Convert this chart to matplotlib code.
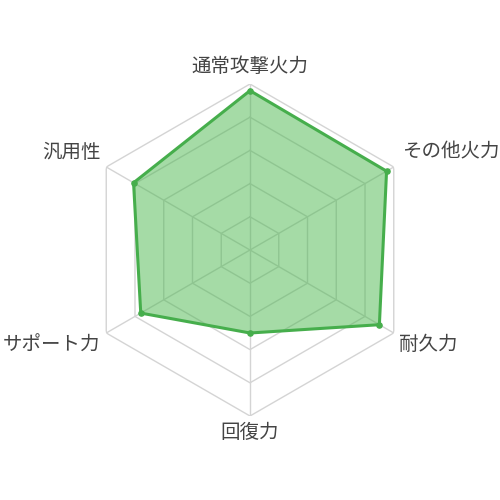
import numpy as np
import matplotlib
matplotlib.use("Agg")
import matplotlib.pyplot as plt

plt.rcParams['font.family'] = ['Noto Sans CJK JP', 'DejaVu Sans']

categories = ['通常攻撃火力', 'その他火力', '耐久力', '回復力', 'サポート力', '汎用性']
values = [9.6, 9.5, 9.0, 5.0, 7.6, 8.1]
r_max = 10
grid_levels = [2, 4, 6, 8, 10]

line_color = '#46AE4C'
fill_color = '#4CB84F'
grid_color = '#d4d4d4'
text_color = '#444444'

n = len(categories)
theta = np.arange(n) * 2 * np.pi / n

fig = plt.figure(figsize=(5, 5), dpi=100)
ax = fig.add_axes([0.168, 0.168, 0.664, 0.664], projection='polar')
ax.set_theta_offset(np.pi / 2)
ax.set_theta_direction(-1)
ax.set_ylim(0, r_max)
ax.grid(False)
ax.spines['polar'].set_visible(False)
ax.set_xticks([])
ax.set_yticks([])

theta_closed = np.append(theta, theta[0])

# hexagonal grid
for lv in grid_levels:
    ax.plot(theta_closed, [lv] * (n + 1), color=grid_color, lw=1.0, zorder=1)
for t in theta:
    ax.plot([t, t], [0, r_max], color=grid_color, lw=1.0, zorder=1)

vals_closed = values + values[:1]
ax.fill(theta_closed, vals_closed, color=fill_color, alpha=0.5, lw=0, zorder=2)
ax.plot(theta_closed, vals_closed, color=line_color, lw=2.2, zorder=3)
ax.scatter(theta, values, s=14, color=line_color, zorder=4)

# labels (offsets in pixels from outer vertex)
label_style = [
    ((0, 17), 'center'),
    ((8, 15), 'left'),
    ((5, -11), 'left'),
    ((0, -17), 'center'),
    ((-6, -12), 'right'),
    ((-6, 14), 'right'),
]
for t, lab, (off, ha) in zip(theta, categories, label_style):
    ax.annotate(lab, xy=(t, r_max), xytext=off, textcoords='offset pixels',
                ha=ha, va='center', fontsize=14, color=text_color,
                annotation_clip=False)

fig.savefig('out.png', dpi=100)
